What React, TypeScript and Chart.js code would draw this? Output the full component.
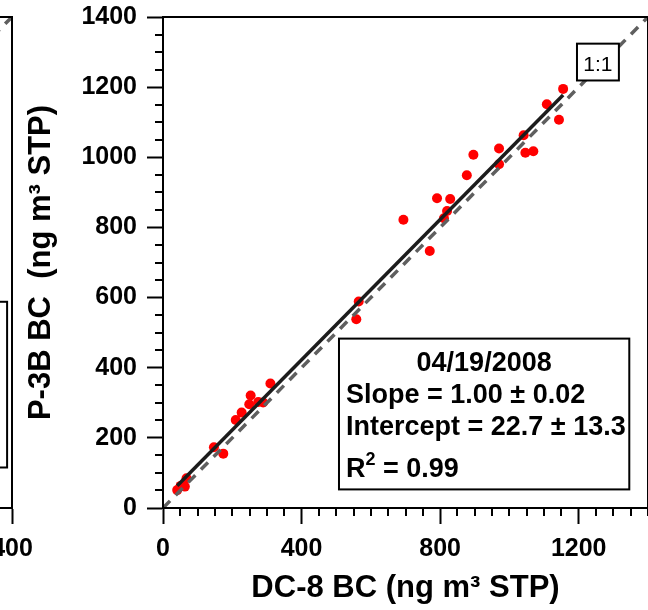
import React, { useEffect, useRef } from "react";
import { Chart, registerables } from "chart.js";

Chart.register(...registerables);

// ---- data ----
const dc8BC = [41, 51, 63, 68, 147, 174, 210, 227, 249, 253, 275, 289, 310, 558, 565, 694, 770, 791, 811, 820, 829, 877, 896, 970, 970, 1041, 1046, 1069, 1108, 1143, 1155];
const p3bBC = [51, 63, 61, 85, 173, 155, 251, 272, 296, 321, 302, 301, 355, 538, 589, 822, 733, 883, 826, 847, 881, 949, 1007, 1025, 980, 1063, 1013, 1017, 1151, 1107, 1195];
const fitRangeX = [41, 1155];
const FIT_SLOPE = 1.0;
const FIT_INTERCEPT = 22.7;
const oneToOneRange = [0, 1400];
const xTickValues = [0, 400, 800, 1200];
const yTickValues = [0, 200, 400, 600, 800, 1000, 1200, 1400];
const statsDate = "04/19/2008";
const statsSlope = "Slope = 1.00 \u00b1 0.02";
const statsIntercept = "Intercept = 22.7 \u00b1 13.3";
const statsR2 = ["R", "2", " = 0.99"];
const oneToOneLabel = "1:1";
const xTitle = "DC-8 BC (ng m\u00b3 STP)";
const yTitle = "P-3B BC  (ng m\u00b3 STP)";

// neighbouring (cut-off) panel on the left
const leftTickValues = [400];
const leftOneToOne = [0, 400];

const FAMILY = "'Liberation Sans', Arial, Helvetica, sans-serif";

const decorPlugin = {
  id: "decor",
  afterDatasetsDraw(chart: any, _args: any, opts: any) {
    const { ctx, chartArea: a, scales } = chart;
    const x = scales.x, y = scales.y;
    ctx.save();
    ctx.strokeStyle = "#000";
    ctx.lineWidth = 2;
    ctx.strokeRect(a.left, a.top, a.right - a.left, a.bottom - a.top);
    if (opts.minorX) {
      ctx.beginPath();
      for (let v = x.min; v <= x.max + 1e-6; v += opts.minorX) {
        if (Math.abs(v % opts.majorX) < 1e-6) continue;
        const p = Math.round(x.getPixelForValue(v));
        ctx.moveTo(p, a.bottom);
        ctx.lineTo(p, a.bottom + opts.minorLen);
      }
      ctx.stroke();
    }
    if (opts.minorY) {
      ctx.beginPath();
      for (let v = y.min; v <= y.max + 1e-6; v += opts.minorY) {
        if (Math.abs(v % opts.majorY) < 1e-6) continue;
        const p = Math.round(y.getPixelForValue(v));
        ctx.moveTo(a.left, p);
        ctx.lineTo(a.left - opts.minorLen, p);
      }
      ctx.stroke();
    }
    for (const b of opts.boxes || []) {
      const l = x.getPixelForValue(b.x0);
      const r = x.getPixelForValue(b.x1);
      const t = y.getPixelForValue(b.y1);
      const bt = y.getPixelForValue(b.y0);
      ctx.fillStyle = "#fff";
      ctx.fillRect(l, t, r - l, bt - t);
      ctx.strokeStyle = "#000";
      ctx.lineWidth = 2;
      ctx.strokeRect(l, t, r - l, bt - t);
      ctx.fillStyle = "#000";
      ctx.textBaseline = "alphabetic";
      (b.lines || []).forEach((ln: any) => {
        if (ln.segments) {
          let cx = l + ln.dx;
          ctx.textAlign = "left";
          ln.segments.forEach((sg: any) => {
            ctx.font = sg.font;
            ctx.fillText(sg.text, cx, t + ln.dy - (sg.rise || 0));
            cx += ctx.measureText(sg.text).width;
          });
          return;
        }
        ctx.font = ln.font;
        ctx.textAlign = ln.align;
        const tx = ln.align === "center" ? (l + r) / 2 : l + ln.dx;
        ctx.fillText(ln.text, tx, t + ln.dy);
      });
    }
    ctx.restore();
  },
};

const plainLabel = (v: any) => String(v);

export default function App() {
  const mainRef = useRef<HTMLCanvasElement | null>(null);
  const leftRef = useRef<HTMLCanvasElement | null>(null);

  useEffect(() => {
    const tickFont = { family: FAMILY, size: 25, weight: "bold" as const };
    const titleFont = { family: FAMILY, size: 31, weight: "bold" as const };
    const boxFont = `bold 27px ${FAMILY}`;
    const supFont = `bold 18px ${FAMILY}`;

    const points = dc8BC.map((v, i) => ({ x: v, y: p3bBC[i] }));
    const fit = fitRangeX.map((v) => ({ x: v, y: FIT_SLOPE * v + FIT_INTERCEPT }));
    const diag = oneToOneRange.map((v) => ({ x: v, y: v }));

    const xFit = (s: any) => { s.height = 102; s.paddingLeft = 0; s.paddingRight = 0; };
    const yFit = (w: number) => (s: any) => { s.width = w; s.paddingTop = 0; s.paddingBottom = 0; };

    const main = new Chart(mainRef.current as HTMLCanvasElement, {
      type: "scatter",
      data: {
        datasets: [
          {
            type: "line",
            label: "fit",
            data: fit,
            borderColor: "#1c1c1c",
            borderWidth: 3.5,
            pointRadius: 0,
            order: 1,
          } as any,
          {
            type: "line",
            label: "1:1",
            data: diag,
            borderColor: "#5f5f5f",
            borderWidth: 3.5,
            borderDash: [10, 8],
            pointRadius: 0,
            order: 2,
          } as any,
          {
            label: "BC",
            data: points,
            backgroundColor: "#ff0000",
            borderWidth: 0,
            pointRadius: 5,
            order: 3,
          },
        ],
      },
      options: {
        responsive: false,
        animation: false,
        events: [],
        layout: { padding: { top: 17, right: 0, bottom: 0, left: 0 } },
        plugins: {
          legend: { display: false },
          tooltip: { enabled: false },
          decor: {
            minorX: 50,
            majorX: 400,
            minorY: 50,
            majorY: 200,
            minorLen: 8,
            boxes: [
              {
                x0: 1195, x1: 1316, y0: 1219, y1: 1324,
                lines: [{ text: oneToOneLabel, font: `21px ${FAMILY}`, align: "center", dy: 27 }],
              },
              {
                x0: 508, x1: 1346, y0: 53, y1: 483,
                lines: [
                  { text: statsDate, font: boxFont, align: "center", dy: 32 },
                  { text: statsSlope, font: boxFont, align: "left", dx: 7, dy: 64 },
                  { text: statsIntercept, font: boxFont, align: "left", dx: 7, dy: 96 },
                  {
                    dx: 7,
                    dy: 138,
                    segments: [
                      { text: statsR2[0], font: boxFont },
                      { text: statsR2[1], font: supFont, rise: 12 },
                      { text: statsR2[2], font: boxFont },
                    ],
                  },
                ],
              },
            ],
          },
        } as any,
        scales: {
          x: {
            type: "linear",
            min: 0,
            max: 1400,
            afterFit: xFit,
            afterBuildTicks: (s: any) => { s.ticks = xTickValues.map((v) => ({ value: v })); },
            ticks: { font: tickFont, color: "#000", padding: 10, maxRotation: 0, autoSkip: false, callback: plainLabel },
            grid: { display: true, drawOnChartArea: false, drawTicks: true, tickLength: 16, tickWidth: 2, tickColor: "#000" },
            border: { display: true, width: 2, color: "#000" },
            title: { display: true, text: xTitle, font: titleFont, color: "#000", padding: { top: 0, bottom: 3 } },
          },
          y: {
            type: "linear",
            min: 0,
            max: 1400,
            afterFit: yFit(163),
            afterBuildTicks: (s: any) => { s.ticks = yTickValues.map((v) => ({ value: v })); },
            ticks: { font: tickFont, color: "#000", padding: 10, autoSkip: false, callback: plainLabel },
            grid: { display: true, drawOnChartArea: false, drawTicks: true, tickLength: 16, tickWidth: 2, tickColor: "#000" },
            border: { display: true, width: 2, color: "#000" },
            title: { display: true, text: yTitle, font: titleFont, color: "#000", padding: { top: 23, bottom: 0 } },
          },
        },
      },
      plugins: [decorPlugin],
    });

    const left = new Chart(leftRef.current as HTMLCanvasElement, {
      type: "scatter",
      data: {
        datasets: [
          {
            type: "line",
            label: "1:1",
            data: leftOneToOne.map((v) => ({ x: v, y: v })),
            borderColor: "#5f5f5f",
            borderWidth: 3.5,
            borderDash: [10, 8],
            pointRadius: 0,
          } as any,
        ],
      },
      options: {
        responsive: false,
        animation: false,
        events: [],
        layout: { padding: { top: 17, right: 30, bottom: 0, left: 0 } },
        plugins: {
          legend: { display: false },
          tooltip: { enabled: false },
          decor: {
            boxes: [{ x0: 250, x1: 396, y0: 33, y1: 168, lines: [] }],
          },
        } as any,
        scales: {
          x: {
            type: "linear",
            min: 0,
            max: 400,
            afterFit: xFit,
            afterBuildTicks: (s: any) => { s.ticks = leftTickValues.map((v) => ({ value: v })); },
            ticks: { font: tickFont, color: "#000", padding: 10, maxRotation: 0, autoSkip: false, callback: plainLabel },
            grid: { display: true, drawOnChartArea: false, drawTicks: true, tickLength: 16, tickWidth: 2, tickColor: "#000" },
            border: { display: true, width: 2, color: "#000" },
          },
          y: { type: "linear", min: 0, max: 400, display: false },
        },
      },
      plugins: [decorPlugin],
    });

    return () => {
      main.destroy();
      left.destroy();
    };
  }, []);

  return (
    <div style={{ position: "fixed", left: 0, top: 0, width: 648, height: 610, overflow: "hidden", background: "#fff" }}>
      <canvas ref={mainRef} width={653} height={610} style={{ position: "absolute", left: 0, top: 0, display: "block" }} />
      <canvas ref={leftRef} width={520} height={610} style={{ position: "absolute", left: -478, top: 0, display: "block" }} />
    </div>
  );
}
